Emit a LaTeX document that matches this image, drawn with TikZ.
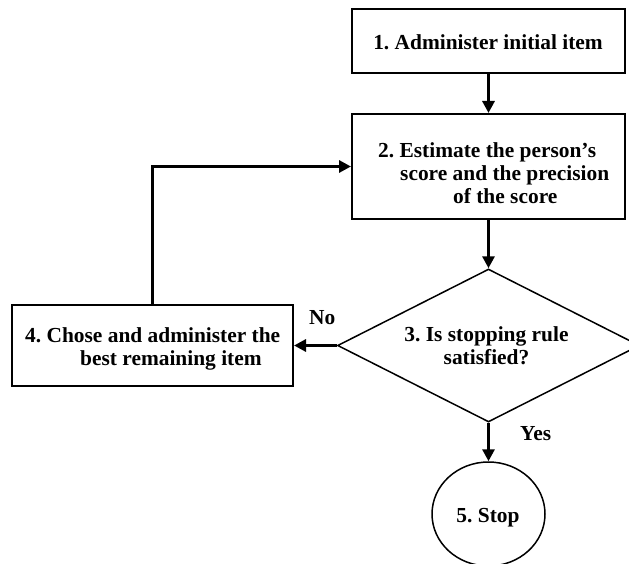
\documentclass[tikz,border=0pt]{standalone}
\usepackage{fontspec}
\setmainfont{Liberation Serif}
\usetikzlibrary{arrows.meta,shapes.geometric}
\frenchspacing
\begin{document}
\frenchspacing
\begin{tikzpicture}[x=1pt,y=-1pt,
  font=\fontsize{21.4}{22.8}\selectfont\bfseries,
  boxnode/.style={draw, line width=2pt, inner sep=0pt, rectangle},
  txt/.style={inner sep=0pt},
  arr/.style={line width=3.6pt, -{Triangle[length=12pt,width=12pt]}},
]
\useasboundingbox (0,0) rectangle (629,564);
% shapes
\node[boxnode, minimum width=273pt, minimum height=64pt] (b1) at (488.5,41) {};
\node[boxnode, minimum width=273pt, minimum height=105pt] (b2) at (488.5,166.5) {};
\node[boxnode, minimum width=281pt, minimum height=81pt] (b4) at (152.5,345.5) {};
\node[draw, line width=1.5pt, diamond, inner sep=0pt, minimum width=302pt, minimum height=153pt] (d) at (488.5,345.5) {};
\node[draw, line width=1.5pt, ellipse, inner sep=0pt, minimum width=113pt, minimum height=104pt] (c) at (488.5,514) {};
% texts
\node[txt, anchor=base] (t1) at (488,50) {1. Administer initial item};
\node[txt, anchor=north west, align=left] (t2) at (378,142.5) {2. Estimate the person’s\\\hspace*{22pt}score and the precision\\\hspace*{75pt}of the score};
\node[txt, anchor=north, align=center] (t3) at (486.5,326.5) {3. Is stopping rule\\satisfied?};
\node[txt, anchor=north west, align=left] (t4) at (25,327.5) {4. Chose and administer the\\\hspace*{55pt}best remaining item};
\node[txt, anchor=base] (t5) at (488,522) {5. Stop};
\node[txt, anchor=base west] (no) at (309,324) {No};
\node[txt, anchor=base west] (yes) at (520,440) {Yes};
% connectors
\draw[arr] (b1.south) -- (b2.north);
\draw[arr] (b2.south) -- (d.north);
\draw[arr] (d.west) -- (b4.east);
\draw[arr] (d.south) -- (c.north);
\draw[arr] (b4.north) |- (b2.west);
\end{tikzpicture}
\end{document}
